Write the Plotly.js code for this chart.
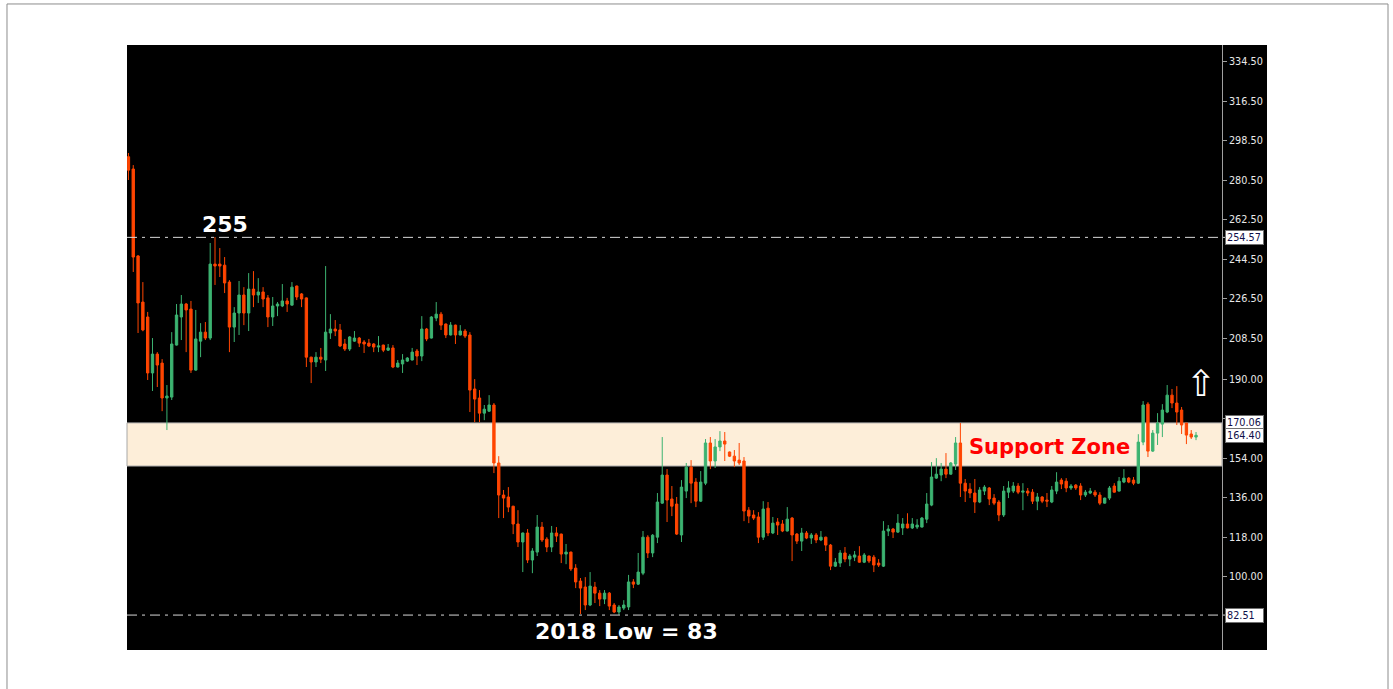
<!DOCTYPE html>
<html>
<head>
<meta charset="utf-8">
<script src="https://cdn.plot.ly/plotly-3.0.1.min.js"></script>
<style>html,body{margin:0;padding:0;background:#fff;}#chart{width:1393px;height:689px;}</style>
</head>
<body>
<div id="chart"></div>
<script>
// ---- data ----
const openVals = [
291.3,285.7,246.1,225.1,218.3,192.8,201.4,197.3,181.4,181.8,
205.5,218.3,224.2,221.9,194.1,207.3,211.4,208.7,242.4,242.4,
241.9,234.2,213.7,220.1,228.3,220.1,231.0,228.3,229.7,227.0,
218.3,223.3,223.3,225.6,223.7,232.4,228.8,227.0,200.0,197.8,
200.0,198.7,211.0,212.8,212.4,206.0,203.7,207.3,208.7,206.9,
206.4,206.0,204.6,205.5,203.2,204.2,195.5,196.9,198.2,198.7,
202.8,200.5,212.8,208.7,217.8,219.6,215.1,210.1,214.6,210.1,
211.9,210.1,185.5,181.4,174.5,175.4,178.2,151.8,137.2,136.3,
132.1,124.0,115.8,119.9,107.6,111.2,122.6,117.1,113.5,119.9,
119.4,110.3,111.2,103.9,98.0,95.3,87.1,95.3,92.5,89.8,
92.5,87.1,83.9,85.7,86.2,97.6,96.6,101.6,118.0,110.8,
118.0,133.5,146.3,135.4,133.1,119.0,139.0,149.9,143.1,134.4,
142.6,160.9,152.7,159.1,161.8,156.8,154.9,153.1,152.7,130.3,
128.1,127.2,118.0,131.2,119.9,124.9,124.0,120.8,126.7,119.4,
116.2,119.9,117.6,119.0,116.7,118.0,114.4,104.8,106.2,110.8,
108.0,108.9,109.4,106.6,109.4,108.9,106.2,104.8,120.8,121.7,
120.3,122.2,124.0,122.2,122.6,122.6,126.2,132.6,144.9,146.3,
149.0,146.7,151.3,160.9,142.6,139.9,138.1,134.0,139.0,140.4,
135.8,134.0,128.1,138.5,139.0,141.3,138.5,139.0,138.5,134.4,
136.3,134.9,134.0,139.0,144.0,143.5,140.4,141.7,141.3,137.2,
138.1,138.5,137.2,133.5,135.8,141.3,139.0,143.1,144.9,144.0,
142.6,161.3,178.6,157.2,165.4,169.5,175.0,182.7,179.1,175.9,
170.0,165.0,163.6];

const highVals = [
293.0,287.5,246.5,234.2,220.6,208.7,202.3,199.1,187.3,211.4,
224.2,228.3,224.7,225.6,221.5,215.5,216.0,252.0,254.7,249.7,
245.6,235.1,222.8,234.7,231.9,238.3,239.2,236.0,231.9,228.3,
227.4,225.1,233.3,227.0,234.2,232.6,229.2,227.2,200.2,202.3,
204.2,241.5,219.6,216.9,215.1,208.3,209.6,211.9,209.2,207.8,
208.3,206.4,209.6,205.7,206.0,205.5,198.7,201.4,200.0,204.2,
203.7,218.7,213.3,218.7,225.1,220.6,215.3,216.0,214.8,214.6,
212.8,211.4,190.0,185.0,178.2,182.7,179.1,154.9,139.5,140.8,
132.3,130.3,120.1,121.7,113.0,128.1,124.9,118.0,123.1,122.6,
119.6,114.9,111.4,105.7,99.4,99.8,102.1,97.6,93.9,93.9,
93.0,88.0,87.1,89.3,100.8,98.9,110.8,120.8,118.9,119.4,
138.1,163.6,149.0,141.3,136.3,144.0,151.8,153.1,144.9,148.1,
162.7,163.6,162.7,166.3,165.9,157.0,157.7,160.9,154.5,131.7,
130.3,129.4,134.4,134.0,127.2,126.7,125.8,131.7,127.2,119.9,
122.2,120.8,119.9,119.9,120.8,118.2,114.9,108.5,112.1,113.5,
110.3,111.7,113.9,110.8,109.6,109.9,108.0,125.3,123.5,122.2,
128.5,126.7,128.9,126.7,126.2,127.2,138.1,152.2,154.0,151.8,
156.3,152.2,163.6,170.0,144.5,142.6,144.5,140.8,141.7,140.8,
137.6,134.9,141.3,143.5,143.1,142.6,142.6,140.4,139.9,138.1,
136.7,138.1,141.3,147.6,144.9,144.9,142.2,142.2,142.6,139.5,
140.4,139.5,138.5,136.0,141.3,142.6,145.4,149.0,145.4,145.4,
164.9,180.0,179.5,166.8,174.5,178.6,187.3,185.5,186.8,177.3,
170.0,166.8,165.9];

const lowVals = [
280.7,238.8,211.0,211.8,189.6,184.6,186.4,175.4,166.8,180.5,
205.3,207.8,202.3,192.8,193.8,200.0,207.8,207.8,232.9,236.5,
229.2,202.3,206.9,210.1,214.6,211.9,222.8,224.7,222.8,213.7,
214.2,218.7,222.8,220.6,223.5,226.0,222.8,195.5,188.2,195.5,
197.3,193.7,208.3,209.6,204.6,202.8,202.8,207.0,204.6,201.9,
204.6,202.3,202.3,202.3,202.8,195.0,195.3,192.8,197.8,198.5,
196.4,198.2,207.3,208.5,216.4,212.4,208.7,209.9,206.0,209.9,
208.7,175.0,170.4,170.4,171.3,175.0,147.2,126.7,126.7,129.4,
119.4,113.5,102.1,106.2,101.6,109.4,115.8,111.2,111.2,115.8,
106.2,105.7,102.6,94.8,83.0,84.8,86.6,88.0,86.6,87.5,
84.8,83.4,82.6,84.8,84.8,94.8,96.2,100.7,108.5,108.9,
115.3,133.2,124.9,127.6,119.0,115.8,135.8,133.5,131.7,134.0,
141.7,149.0,149.5,157.2,152.7,154.5,149.9,150.9,125.3,124.4,
125.8,115.3,116.7,118.5,119.4,119.0,120.3,120.6,107.1,114.9,
111.7,117.1,114.9,115.3,116.2,111.7,103.0,104.4,104.4,106.6,
104.8,107.1,106.4,106.2,106.2,102.1,104.4,104.4,118.5,117.6,
119.9,119.0,122.0,121.7,121.7,122.4,124.4,132.1,144.5,143.5,
144.9,146.5,148.6,136.3,134.0,135.8,129.0,133.5,137.2,132.6,
132.6,125.3,127.2,135.8,138.1,137.6,130.3,136.7,133.1,130.3,
133.5,131.7,133.5,137.6,139.9,138.5,139.5,139.5,134.9,136.3,
137.6,136.3,132.6,133.3,134.9,138.3,138.8,142.6,142.6,141.7,
142.2,159.9,154.5,156.8,160.0,163.6,174.5,176.8,169.1,165.0,
160.4,162.7,162.2];

const closeVals = [
285.2,245.6,224.7,212.4,192.8,201.4,196.4,181.4,182.3,206.0,
219.2,224.2,221.5,194.1,208.3,211.4,208.7,242.4,241.5,241.5,
233.8,213.7,220.1,228.3,220.1,231.0,228.3,229.7,226.5,218.3,
223.3,224.2,225.6,224.2,231.9,227.4,226.5,200.0,197.8,200.0,
199.1,211.4,212.8,211.9,205.1,203.7,209.2,208.7,206.4,206.0,
205.1,204.6,205.1,203.2,204.2,195.5,197.3,198.7,199.6,202.3,
200.5,212.8,208.3,218.3,219.6,214.6,210.1,214.6,210.1,211.9,
209.6,185.0,180.9,174.5,176.3,178.2,151.8,137.2,135.8,131.7,
124.0,115.8,119.9,107.6,111.7,122.6,116.7,113.5,119.9,118.5,
110.3,111.2,103.5,97.6,94.8,87.1,95.7,92.5,89.8,92.5,
86.6,83.9,86.2,87.1,97.6,96.6,102.1,118.0,110.8,118.9,
134.0,146.3,134.9,132.1,119.4,140.8,149.9,142.6,134.4,143.1,
160.9,152.7,159.1,161.8,160.4,154.9,152.7,151.8,129.9,127.6,
126.7,118.0,130.8,119.9,124.4,123.5,120.8,126.2,119.0,116.2,
119.9,117.6,119.0,116.7,118.0,114.4,104.8,106.6,110.8,108.0,
109.4,109.9,106.6,109.9,107.1,105.3,105.3,120.8,121.7,120.3,
124.4,124.0,122.2,124.0,123.5,126.7,133.1,145.4,146.7,149.0,
146.7,151.8,160.9,142.6,139.0,138.1,134.0,139.5,140.8,135.4,
133.5,128.1,139.0,140.4,141.3,138.5,139.0,138.1,134.4,136.3,
134.4,134.4,139.5,143.1,142.2,140.4,141.3,140.4,137.2,138.5,
139.0,137.2,133.5,135.8,140.4,138.5,143.5,144.9,143.1,142.6,
161.3,178.2,157.2,165.4,170.0,175.9,182.7,179.1,175.0,169.1,
164.5,163.6,164.4];

const barIndex = openVals.map((_, i) => i);

// price-scale ticks (172.00 sits under the 170.06 marker in the reference)
const tickValues = [100, 118, 136, 154, 172, 190, 208.5, 226.5, 244.5, 262.5, 280.5, 298.5, 316.5, 334.5];
const tickLabels = tickValues.map(v => (v === 172 ? '' : v.toFixed(2)));

const highLevel = 254.57;
const lowLevel = 82.51;
const zoneTop = 170.06;
const zoneBottom = 150.4;
const lastPrice = 164.40;
const boxedLabels = [highLevel, zoneTop, lastPrice, lowLevel];

// ---- chart ----
const trace = {
  type: 'candlestick',
  x: barIndex,
  open: openVals, high: highVals, low: lowVals, close: closeVals,
  increasing: {line: {color: '#3cb371', width: 1}, fillcolor: '#3cb371'},
  decreasing: {line: {color: '#ff4500', width: 1}, fillcolor: '#ff4500'},
  whiskerwidth: 0,
  hoverinfo: 'skip',
  showlegend: false
};

const dashStyle = '10px,5px,3px,5px';

const shapes = [
  {type: 'rect', xref: 'paper', yref: 'paper', x0: -0.1096, x1: 1.1516, y0: -0.1, y1: 1.0678,
   line: {color: '#8c8c8c', width: 1}, fillcolor: 'rgba(0,0,0,0)', layer: 'below'},
  {type: 'rect', xref: 'paper', yref: 'paper', x0: 1, x1: 1.0411, y0: 0, y1: 1,
   line: {width: 0}, fillcolor: '#000000', layer: 'below'},
  {type: 'rect', xref: 'paper', yref: 'y', x0: 0, x1: 1, y0: zoneBottom, y1: zoneTop,
   line: {color: '#a8a8a8', width: 1}, fillcolor: '#fdeed9', layer: 'below'},
  {type: 'line', xref: 'paper', yref: 'y', x0: 0, x1: 1.003, y0: highLevel, y1: highLevel,
   line: {color: '#d8d8d8', width: 1, dash: dashStyle}},
  {type: 'line', xref: 'paper', yref: 'y', x0: 0, x1: 1.003, y0: lowLevel, y1: lowLevel,
   line: {color: '#d8d8d8', width: 1, dash: dashStyle}}
];

const annotations = boxedLabels.map(v => ({
  xref: 'paper', yref: 'y', x: 1.0027, y: v, xanchor: 'left', yanchor: 'middle',
  text: v.toFixed(2), showarrow: false, bgcolor: '#ffffff', bordercolor: '#707070',
  borderwidth: 1, borderpad: 1, width: 35, align: 'left',
  font: {family: 'DejaVu Sans', size: 9.7, color: '#10104a'}
}));

const boldFont = 'DejaVu Sans';
annotations.push(
  {xref: 'x', yref: 'y', x: 20.1, y: 260.6, text: '255', showarrow: false,
   font: {family: boldFont, size: 22, color: '#ffffff', weight: 'bold'}},
  {xref: 'x', yref: 'y', x: 103.5, y: 75.0, text: '2018 Low = 83', showarrow: false,
   font: {family: boldFont, size: 22, color: '#ffffff', weight: 'bold'}},
  {xref: 'x', yref: 'y', x: 191.6, y: 159.3, text: 'Support Zone', showarrow: false,
   font: {family: boldFont, size: 21, color: '#ff0000', weight: 'bold'}},
  {xref: 'x', yref: 'y', x: 223.1, y: 188.0, text: '\u21E7', showarrow: false,
   font: {family: 'DejaVu Sans', size: 36, color: '#ffffff'}}
);

const layout = {
  width: 1393, height: 689,
  margin: {l: 127, r: 171, t: 45, b: 39, pad: 0},
  paper_bgcolor: '#ffffff',
  plot_bgcolor: '#000000',
  showlegend: false,
  dragmode: false,
  hovermode: false,
  xaxis: {
    range: [-0.3, 227.4], showgrid: false, zeroline: false, showticklabels: false,
    showline: false, ticks: '', rangeslider: {visible: false}, fixedrange: true
  },
  yaxis: {
    side: 'right', range: [66.6, 342.2], tickmode: 'array',
    tickvals: tickValues, ticktext: tickLabels,
    ticks: 'outside', ticklen: 4, tickcolor: '#a0a0a0', tickwidth: 1,
    showline: true, linecolor: '#a0a0a0', linewidth: 1,
    showgrid: false, zeroline: false, fixedrange: true,
    tickfont: {family: 'DejaVu Sans', size: 9.7, color: '#e8e8e8'}
  },
  shapes: shapes,
  annotations: annotations
};

Plotly.newPlot('chart', [trace], layout, {displayModeBar: false, staticPlot: true});
</script>
</body>
</html>
